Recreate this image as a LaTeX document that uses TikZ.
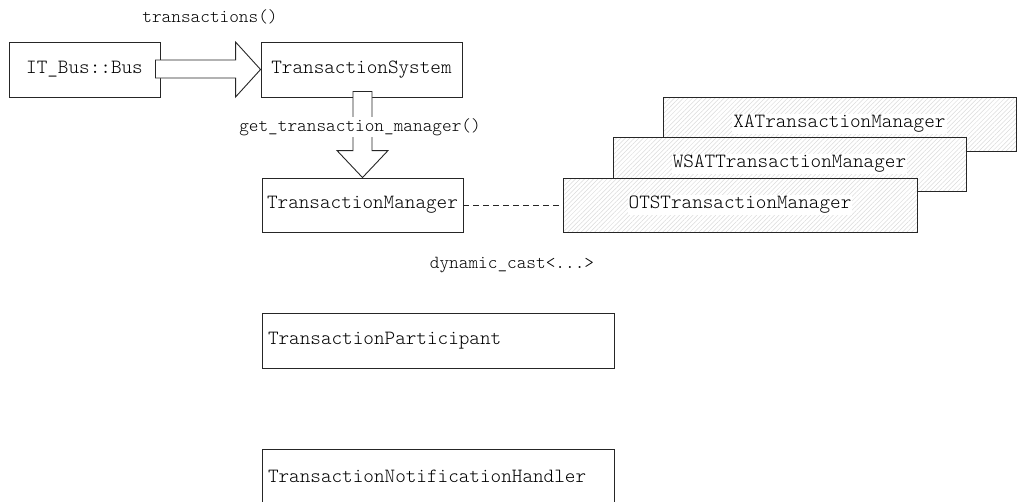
\documentclass[tikz,border=0pt]{standalone}
\usetikzlibrary{calc,patterns.meta}
\begin{document}
\begin{tikzpicture}[x=1pt,y=-1pt,
  box/.style={draw=black!85,line width=0.9pt,fill=white,inner sep=0pt,font=\ttfamily\fontseries{l}\fontsize{20.2}{22}\selectfont},
  hbox/.style={draw=black!85,line width=0.9pt,inner sep=0pt,preaction={fill=white},
    pattern={Lines[angle=45,distance=3.2pt,line width=0.5pt]},pattern color=black!14},
  hlab/.style={fill=white,inner sep=1pt,font=\ttfamily\fontseries{l}\fontsize{20.2}{22}\selectfont},
  lbl/.style={inner sep=1pt,font=\ttfamily\fontseries{l}\fontsize{18.4}{20}\selectfont},
  bigarrow/.style={draw=black!85,line width=0.9pt,fill=white,line join=miter},
  lbox/.style={box,align=left,text width=340pt,inner xsep=6pt,minimum height=55pt}]
\useasboundingbox (0,0) rectangle (1017,501);
\begin{scope}
\clip (0,0) rectangle (1017,501);
% main boxes
\node[box,minimum width=151pt,minimum height=55pt] (bus) at (84.5,69.5) {IT\_Bus::Bus};
\node[box,minimum width=201pt,minimum height=55pt] (ts) at (361.5,69.5) {TransactionSystem};
\node[box,minimum width=201pt,minimum height=54pt] (tm) at (362.5,205) {TransactionManager};
\node[lbox] (tp) at (438,340.5) {TransactionParticipant};
\node[lbox] (tnh) at (438,476.5) {TransactionNotificationHandler};
% stacked hatched boxes
\node[hbox,minimum width=353pt,minimum height=54pt] (xa) at (839.5,124) {};
\node[hlab] (xal) at (xa.center) {XATransactionManager};
\node[hbox,minimum width=353pt,minimum height=54pt] (ws) at (789.5,164) {};
\node[hlab] (wsl) at (ws.center) {WSATTransactionManager};
\node[hbox,minimum width=354pt,minimum height=54pt] (ots) at (740,205) {};
\node[hlab] (otsl) at (ots.center) {OTSTransactionManager};
% dashed connector
\draw[black!85,line width=0.9pt,dash pattern=on 6pt off 4pt] (tm.east) -- (ots.west);
% horizontal big arrow
\draw[bigarrow] ($(bus.east)+(-5,-9.5)$) -- ($(ts.west)+(-25,-9.5)$) -- ($(ts.west)+(-25,-27.5)$)
  -- (ts.west) -- ($(ts.west)+(-25,27.5)$) -- ($(ts.west)+(-25,8.5)$) -- ($(bus.east)+(-5,8.5)$) -- cycle;
% vertical big arrow
\draw[bigarrow] ($(ts.south)+(-8.5,-6)$) -- ($(tm.north)+(-9.5,-27)$) -- ($(tm.north)+(-25.5,-27)$)
  -- (tm.north) -- ($(tm.north)+(25.5,-27)$) -- ($(tm.north)+(9.5,-27)$) -- ($(ts.south)+(10.5,-6)$) -- cycle;
% labels
\node[lbl] (l1) at (210,17) {transactions()};
\node[lbl,fill=white] (l2) at (360,127) {get\_transaction\_manager()};
\node[lbl] (l3) at (512,265) {dynamic\_cast<...>};
\end{scope}
\end{tikzpicture}
\end{document}
